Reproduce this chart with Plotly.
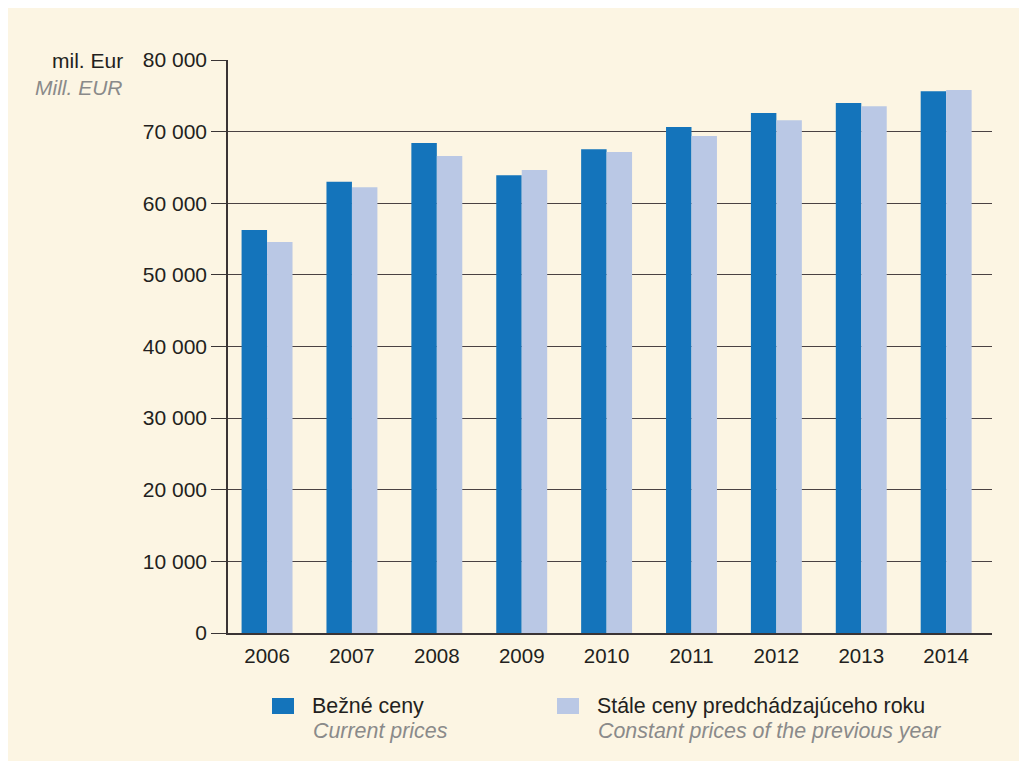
import plotly.graph_objects as go

years = ["2006", "2007", "2008", "2009", "2010", "2011", "2012", "2013", "2014"]
current_prices = [56250, 63000, 68400, 63900, 67550, 70650, 72600, 74000, 75650]
constant_prices = [54600, 62250, 66600, 64650, 67150, 69400, 71600, 73550, 75800]

label_cz = ["Bežné ceny", "Stále ceny predchádzajúceho roku"]
label_en = ["Current prices", "Constant prices of the previous year"]
colors = ["#1474bb", "#bac8e5"]

W, H = 1019, 753
L, R, T, B = 220, 35, 52, 128
FONT = "Liberation Sans, Arial, sans-serif"
DARK = "#231f20"
GREY = "#8a8a8a"
BG = "#fcf5e3"
OFF = 8  # page body margin


# page pixel -> paper coords (relative to plot area)
def px(x):
    return (x - OFF - L) / (W - L - R)


def py(y):
    return (H - B - (y - OFF)) / (H - T - B)


fig = go.Figure()
for name, vals, c in zip(label_cz, [current_prices, constant_prices], colors):
    fig.add_trace(go.Bar(x=years, y=vals, name=name, marker_color=c,
                         marker_line_width=0, showlegend=False))

shapes = []
annotations = [
    dict(text="mil. Eur", x=px(125), y=py(61), xanchor="right", yanchor="middle",
         font=dict(size=21, color=DARK)),
    dict(text="<i>Mill. EUR</i>", x=px(125), y=py(87), xanchor="right", yanchor="middle",
         font=dict(size=21, color=GREY)),
]

# legend drawn by hand: square + two-line label
leg_x = [272, 557]
for i in range(2):
    shapes.append(dict(type="rect", xref="paper", yref="paper",
                       x0=px(leg_x[i]), x1=px(leg_x[i] + 22),
                       y0=py(714), y1=py(698), fillcolor=colors[i], line_width=0))
    annotations.append(dict(text=label_cz[i], x=px(leg_x[i] + 38), y=py(706),
                            xanchor="left", yanchor="middle",
                            font=dict(size=21.4, color=DARK)))
    annotations.append(dict(text="<i>" + label_en[i] + "</i>", x=px(leg_x[i] + 39), y=py(731),
                            xanchor="left", yanchor="middle",
                            font=dict(size=21.4, color=GREY)))

for a in annotations:
    a.update(xref="paper", yref="paper", showarrow=False)

fig.update_layout(
    width=W, height=H,
    margin=dict(l=L, r=R, t=T, b=B),
    paper_bgcolor=BG,
    plot_bgcolor=BG,
    font=dict(family=FONT, size=20, color=DARK),
    bargap=0.4, bargroupgap=0,
    barmode="group",
    separators=", ",
    shapes=shapes,
    annotations=annotations,
)
fig.update_xaxes(range=[-0.46, 8.54], showgrid=False, showline=True,
                 linecolor="#3a3435", linewidth=1.5,
                 ticks="", ticklabelstandoff=4, tickfont=dict(size=20.5, color=DARK))
fig.update_yaxes(range=[0, 80000], dtick=10000, tickformat=",d",
                 showgrid=True, gridcolor="#4a4243", gridwidth=1.3,
                 showline=True, linecolor="#3a3435", linewidth=1.5,
                 ticks="outside", ticklen=15, tickcolor="#3a3435", tickwidth=1.3,
                 zeroline=False, tickfont=dict(size=21, color=DARK))

fig.write_html("out.html")
